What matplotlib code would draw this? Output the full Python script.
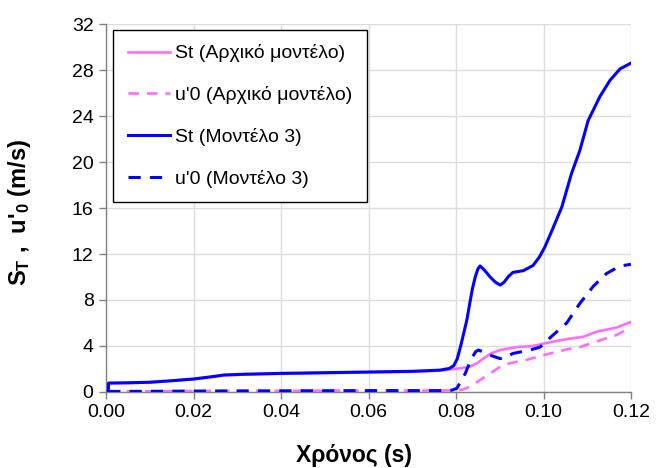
import matplotlib
matplotlib.use("Agg")
import matplotlib.pyplot as plt

plt.rcParams['font.family'] = ['Liberation Sans', 'DejaVu Sans']
plt.rcParams['mathtext.fontset'] = 'custom'
plt.rcParams['mathtext.rm'] = 'Liberation Sans:bold'
plt.rcParams['mathtext.it'] = 'Liberation Sans:bold'
plt.rcParams['mathtext.bf'] = 'Liberation Sans:bold'
plt.rcParams['mathtext.default'] = 'bf'

# Time (s) and flame speed data
t_st3 = [0.0005, 0.0006, 0.005, 0.010, 0.015, 0.020, 0.024, 0.027, 0.032, 0.040, 0.050,
         0.060, 0.070, 0.0763, 0.0785, 0.0795, 0.0803, 0.0812, 0.0825, 0.0837, 0.0844,
         0.0850, 0.0855, 0.0865, 0.0878, 0.0890, 0.0901, 0.0910, 0.0920, 0.0930,
         0.0954, 0.0976, 0.0990, 0.1003, 0.1020, 0.1042, 0.1064, 0.1083, 0.1102,
         0.1129, 0.1152, 0.1175, 0.1200]
st_model3 = [0.0, 0.78, 0.80, 0.85, 0.98, 1.13, 1.32, 1.48, 1.55, 1.62, 1.68,
             1.74, 1.80, 1.90, 2.05, 2.30, 2.90, 4.20, 6.30, 8.90, 10.00,
             10.70, 10.96, 10.60, 10.00, 9.55, 9.30, 9.55, 10.05, 10.40,
             10.55, 11.00, 11.70, 12.60, 14.10, 16.10, 19.00, 21.00, 23.60,
             25.70, 27.10, 28.10, 28.60]

t_u3 = [0.0005, 0.010, 0.020, 0.040, 0.060, 0.076, 0.0790, 0.0802, 0.0821, 0.0835,
        0.0845, 0.0851, 0.0865, 0.0878, 0.0901, 0.0915, 0.0930, 0.0969, 0.0992,
        0.1022, 0.1053, 0.1083, 0.1114, 0.1144, 0.1175, 0.1200]
u_model3 = [0.05, 0.06, 0.08, 0.10, 0.12, 0.12, 0.15, 0.32, 1.60, 2.90,
            3.50, 3.65, 3.45, 3.20, 2.90, 3.05, 3.35, 3.65, 3.90,
            4.96, 6.00, 7.70, 9.20, 10.30, 10.96, 11.10]

t_st0 = [0.0005, 0.0006, 0.005, 0.010, 0.015, 0.020, 0.024, 0.027, 0.032, 0.040, 0.050,
         0.060, 0.070, 0.0763, 0.0790, 0.0809, 0.0832, 0.0850, 0.0862, 0.0880,
         0.0901, 0.0939, 0.0976, 0.0999, 0.1053, 0.1091, 0.1122, 0.1167, 0.1200]
st_initial = [0.0, 0.76, 0.78, 0.83, 0.96, 1.10, 1.30, 1.45, 1.52, 1.58, 1.64,
              1.70, 1.76, 1.86, 1.98, 2.06, 2.20, 2.55, 2.90, 3.35,
              3.65, 3.90, 4.00, 4.20, 4.60, 4.80, 5.25, 5.60, 6.10]

t_u0 = [0.0005, 0.010, 0.020, 0.040, 0.060, 0.076, 0.0800, 0.0815, 0.0832, 0.0855,
        0.0878, 0.0901, 0.0923, 0.0962, 0.0999, 0.1053, 0.1083, 0.1122, 0.1167,
        0.1200]
u_initial = [0.05, 0.06, 0.08, 0.10, 0.12, 0.12, 0.14, 0.20, 0.46, 1.04,
             1.60, 2.20, 2.50, 2.80, 3.20, 3.70, 3.90, 4.40, 4.96,
             5.60]

labels = ["St (Αρχικό μοντέλο)", "u'0 (Αρχικό μοντέλο)",
          "St (Μοντέλο 3)", "u'0 (Μοντέλο 3)"]

x_ticks = [0.00, 0.02, 0.04, 0.06, 0.08, 0.10, 0.12]
y_ticks = [0, 4, 8, 12, 16, 20, 24, 28, 32]

pink = '#FF6EFF'
blue = '#0000FF'

fig = plt.figure(figsize=(6.56, 4.68), dpi=100)
ax = fig.add_axes([0.1616, 0.1624, 0.8003, 0.7863])

ax.plot(t_st0, st_initial, color=pink, lw=1.9, label=labels[0], zorder=3)
ax.plot(t_u0, u_initial, color=pink, lw=1.9, dashes=(4, 3), label=labels[1], zorder=3)
ax.plot(t_st3, st_model3, color=blue, lw=2.2, label=labels[2], zorder=4)
ax.plot(t_u3, u_model3, color=blue, lw=2.2, dashes=(4, 3), label=labels[3], zorder=4)

ax.set_xlim(0, 0.12)
ax.set_ylim(0, 32)
ax.set_xticks(x_ticks)
ax.set_xticklabels([f"{v:.2f}" for v in x_ticks])
ax.set_yticks(y_ticks)
ax.tick_params(axis='both', labelsize=14, color='#808080', length=5, width=1, pad=4)

ax.grid(True, color='#dcdcdc', lw=1)
ax.set_axisbelow(True)
for side in ('top', 'right'):
    ax.spines[side].set_visible(False)
for side in ('left', 'bottom'):
    ax.spines[side].set_color('#808080')
    ax.spines[side].set_linewidth(1)

ax.set_xlabel("Χρόνος (s)", fontsize=16.5, fontweight='bold')
ax.xaxis.set_label_coords(0.4724, -0.140)
ax.set_ylabel(r"S$_T$ ,  u'$_0$ (m/s)", fontsize=17, fontweight='bold')
ax.yaxis.set_label_coords(-0.139, 0.489)

leg = ax.legend(loc='upper left', bbox_to_anchor=(0.0133, 0.984), fontsize=14,
                frameon=True, fancybox=False, framealpha=1, edgecolor='black',
                borderpad=0.75, labelspacing=1.22, handlelength=2.2,
                handletextpad=0.25, borderaxespad=0)
leg.get_frame().set_linewidth(1)

fig.savefig("out.png", dpi=100)
